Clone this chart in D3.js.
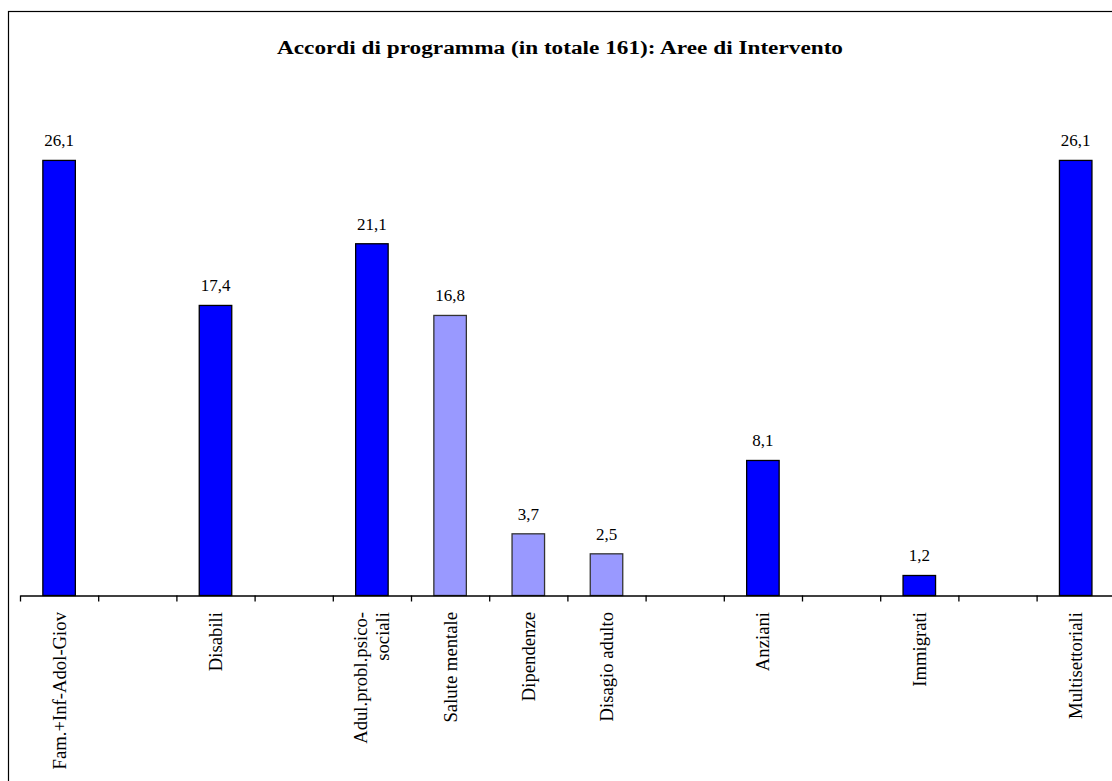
<!DOCTYPE html>
<html>
<head>
<meta charset="utf-8">
<script src="https://cdn.jsdelivr.net/npm/d3@7"></script>
<style>
html,body{margin:0;padding:0;background:#fff;}
svg{display:block;}
svg text{font-family:"Liberation Serif","Times New Roman",Times,"DejaVu Serif",serif;}
</style>
</head>
<body>
<svg id="chart" width="1112" height="781"></svg>
<script>
const title = "Accordi di programma (in totale 161): Aree di Intervento";
const categories = ["Fam.+Inf-Adol-Giov","","Disabili","","Adul.probl.psico-sociali","Salute mentale","Dipendenze","Disagio adulto","","Anziani","","Immigrati","","Multisettoriali"];
const tickLabels = ["Fam.+Inf-Adol-Giov","","Disabili","","Adul.probl.psico-\nsociali","Salute mentale","Dipendenze","Disagio adulto","","Anziani","","Immigrati","","Multisettoriali"];
const values = [26.1,null,17.4,null,21.1,16.8,3.7,2.5,null,8.1,null,1.2,null,26.1];
const valueLabels = ["26,1","","17,4","","21,1","16,8","3,7","2,5","","8,1","","1,2","","26,1"];
const lightCategories = ["Salute mentale","Dipendenze","Disagio adulto"];
const yMax = 30;

const svg = d3.select("#chart");

// outer frame
svg.append("rect").attr("x",8.5).attr("y",11.5).attr("width",1120).attr("height",800)
  .attr("fill","none").attr("stroke","#000").attr("stroke-width",1.2);

svg.append("text").attr("x",560).attr("y",54).attr("text-anchor","middle")
  .attr("font-weight","bold").attr("font-size",18)
  .attr("textLength",566).attr("lengthAdjust","spacingAndGlyphs")
  .text(title);

const left = 20, step = 78.2, baseY = 595.5, topY = 595.5 - 30*16.67;
const idx = d3.range(categories.length);
const x = d3.scaleBand().domain(idx).range([left, left + step*categories.length]).padding(0);
const xLin = d3.scaleLinear().domain([0, categories.length]).range([left, left + step*categories.length]);
const y = d3.scaleLinear().domain([0, yMax]).range([baseY, topY]);
const barW = 32.5;

const data = idx.map(i => ({i, cat: categories[i], v: values[i], lab: valueLabels[i], tick: tickLabels[i]}));

svg.selectAll("rect.bar").data(data.filter(d => d.v != null)).enter().append("rect")
  .attr("class","bar")
  .attr("x", d => x(d.i) + x.bandwidth()/2 - barW/2)
  .attr("y", d => y(d.v))
  .attr("width", barW)
  .attr("height", d => y(0) - y(d.v))
  .attr("fill", d => lightCategories.includes(d.cat) ? "#9999FF" : "#0000FF")
  .attr("stroke", d => lightCategories.includes(d.cat) ? "#333" : "#000")
  .attr("stroke-width", 1.3);

svg.selectAll("text.val").data(data.filter(d => d.v != null)).enter().append("text")
  .attr("class","val")
  .attr("x", d => x(d.i) + x.bandwidth()/2)
  .attr("y", d => y(d.v) - 14)
  .attr("text-anchor","middle")
  .attr("font-size",17)
  .text(d => d.lab);

// axis with boundary ticks
const axis = d3.axisBottom(xLin).tickValues(d3.range(0, categories.length + 1)).tickFormat("").tickSizeInner(6).tickSizeOuter(0);
const gAxis = svg.append("g").attr("transform",`translate(0,${baseY})`).call(axis);
gAxis.select(".domain").attr("stroke","#000").attr("stroke-width",1.3);
gAxis.selectAll(".tick line").attr("stroke","#000").attr("stroke-width",1.3);

// category labels
const lh = 22;
data.filter(d => d.tick).forEach(d => {
  const lines = d.tick.split("\n");
  const cx = x(d.i) + x.bandwidth()/2;
  const t = svg.append("text")
    .attr("transform",`translate(${cx},612) rotate(-90)`)
    .attr("text-anchor","end")
    .attr("font-size",18.7);
  lines.forEach((ln, k) => {
    t.append("tspan").attr("x",0).attr("y", (k - (lines.length-1)/2)*lh).attr("dy","0.35em").text(ln);
  });
});
</script>
</body>
</html>
